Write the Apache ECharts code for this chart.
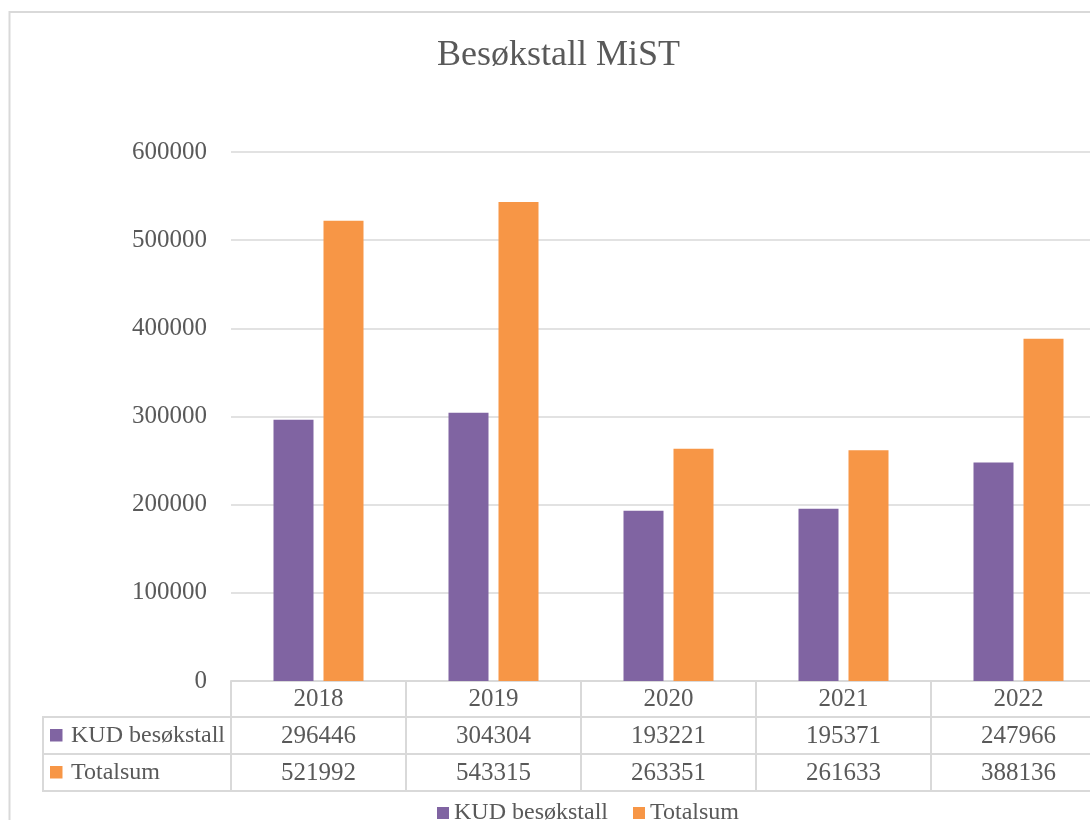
<!DOCTYPE html>
<html>
<head>
<meta charset="utf-8">
<script src="https://cdn.jsdelivr.net/npm/echarts@6/dist/echarts.min.js"></script>
<style>html,body{margin:0;padding:0;background:#fff;overflow:hidden;width:1090px;height:820px;}#c{width:1110px;height:820px;}</style>
</head>
<body>
<div id="c"></div>
<script>
const years = ['2018', '2019', '2020', '2021', '2022'];
const seriesNames = ['KUD besøkstall', 'Totalsum'];
const kud = [296446, 304304, 193221, 195371, 247966];
const totalsum = [521992, 543315, 263351, 261633, 388136];
const yTicks = { min: 0, max: 600000, interval: 100000 };

const FONT = '"Liberation Serif", "DejaVu Serif", serif';
const TXT = '#595959';
const LINE = '#d9d9d9';
const colors = ['#8064a2', '#f79646'];

const chart = echarts.init(document.getElementById('c'));
const rowY = [735.5, 772.5];
const graphic = [
  { type: 'rect', shape: { x: 9.5, y: 12, width: 1200, height: 900 }, style: { fill: 'none', stroke: LINE, lineWidth: 2 }, silent: true },
  { type: 'line', shape: { x1: 43, y1: 717, x2: 1110, y2: 717 }, style: { stroke: LINE, lineWidth: 2 } },
  { type: 'line', shape: { x1: 43, y1: 754, x2: 1110, y2: 754 }, style: { stroke: LINE, lineWidth: 2 } },
  { type: 'line', shape: { x1: 43, y1: 791, x2: 1110, y2: 791 }, style: { stroke: LINE, lineWidth: 2 } },
  { type: 'line', shape: { x1: 43, y1: 716, x2: 43, y2: 792 }, style: { stroke: LINE, lineWidth: 2 } }
];
seriesNames.forEach((n, i) => {
  graphic.push({ type: 'rect', shape: { x: 50, y: rowY[i] - 6.5, width: 12.5, height: 12.5 }, style: { fill: colors[i] } });
  graphic.push({ type: 'text', x: 71, y: rowY[i], style: { text: n, fill: TXT, font: '24px ' + FONT, textVerticalAlign: 'middle', verticalAlign: 'middle' } });
});

chart.setOption({
  animation: false,
  color: colors,
  title: {
    text: 'Besøkstall MiST',
    left: 432, top: 33,
    textStyle: { fontFamily: FONT, fontSize: 36, fontWeight: 'normal', color: TXT }
  },
  legend: {
    data: seriesNames,
    left: 432, top: 796,
    icon: 'rect', itemWidth: 12, itemHeight: 12, itemGap: 25,
    textStyle: { fontFamily: FONT, fontSize: 24, color: TXT }
  },
  grid: { left: 231, top: 152, width: 875, height: 529, containLabel: false },
  xAxis: {
    type: 'category',
    data: years,
    axisLine: { show: true, lineStyle: { color: LINE, width: 2 } },
    axisTick: { show: true, length: 110, lineStyle: { color: LINE, width: 2 } },
    axisLabel: {
      margin: 0,
      fontFamily: FONT, fontSize: 25, color: TXT, lineHeight: 37,
      formatter: (v, i) => v + '\n' + kud[i] + '\n' + totalsum[i]
    }
  },
  yAxis: {
    type: 'value',
    min: yTicks.min, max: yTicks.max, interval: yTicks.interval,
    axisLine: { show: false }, axisTick: { show: false },
    axisLabel: { margin: 24, fontFamily: FONT, fontSize: 25, color: TXT, formatter: v => String(v) },
    splitLine: { lineStyle: { color: LINE, width: 1.5 } }
  },
  series: [
    { name: seriesNames[0], type: 'bar', data: kud, barWidth: 40, barGap: '25%' },
    { name: seriesNames[1], type: 'bar', data: totalsum, barWidth: 40, barGap: '25%' }
  ],
  graphic: graphic
});
</script>
</body>
</html>
